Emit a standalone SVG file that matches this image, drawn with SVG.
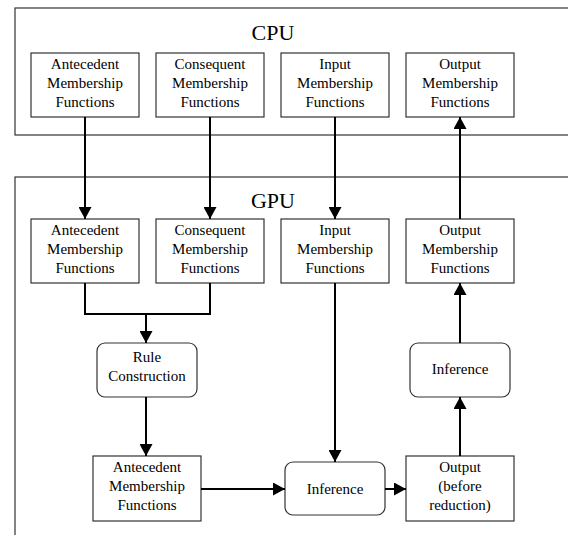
<svg xmlns="http://www.w3.org/2000/svg" width="568" height="535" viewBox="0 0 568 535">
<style>
text{font-family:"Liberation Serif","Times New Roman",serif;fill:#000;text-anchor:middle}
.t{font-size:15px}
.h{font-size:22px}
.box{fill:#fff;stroke:#333;stroke-width:1.2}
.frame{fill:none;stroke:#333;stroke-width:1.2}
.c{fill:none;stroke:#000;stroke-width:2}
</style>
<defs>
<marker id="ah" viewBox="0 0 12 13" refX="12" refY="6.5" markerWidth="12" markerHeight="13" markerUnits="userSpaceOnUse" orient="auto">
<path d="M0,0 L12,6.5 L0,13 Z" fill="#000"/>
</marker>
</defs>
<g id="cpu"><rect class="frame" x="15" y="8" width="565" height="127"/><text class="h" x="273" y="40">CPU</text></g>
<g id="gpu"><rect class="frame" x="15" y="177" width="565" height="370"/><text class="h" x="273" y="208">GPU</text></g>
<g id="cpu_ante"><rect class="box" x="31" y="53" width="108" height="64"/><text class="t" x="85" y="69">Antecedent</text><text class="t" x="85" y="88">Membership</text><text class="t" x="85" y="107">Functions</text></g>
<g id="cpu_cons"><rect class="box" x="156" y="53" width="108" height="64"/><text class="t" x="210" y="69">Consequent</text><text class="t" x="210" y="88">Membership</text><text class="t" x="210" y="107">Functions</text></g>
<g id="cpu_input"><rect class="box" x="281" y="53" width="108" height="64"/><text class="t" x="335" y="69">Input</text><text class="t" x="335" y="88">Membership</text><text class="t" x="335" y="107">Functions</text></g>
<g id="cpu_output"><rect class="box" x="406" y="53" width="108" height="64"/><text class="t" x="460" y="69">Output</text><text class="t" x="460" y="88">Membership</text><text class="t" x="460" y="107">Functions</text></g>
<g id="gpu_ante"><rect class="box" x="31" y="219" width="108" height="64"/><text class="t" x="85" y="235">Antecedent</text><text class="t" x="85" y="254">Membership</text><text class="t" x="85" y="273">Functions</text></g>
<g id="gpu_cons"><rect class="box" x="156" y="219" width="108" height="64"/><text class="t" x="210" y="235">Consequent</text><text class="t" x="210" y="254">Membership</text><text class="t" x="210" y="273">Functions</text></g>
<g id="gpu_input"><rect class="box" x="281" y="219" width="108" height="64"/><text class="t" x="335" y="235">Input</text><text class="t" x="335" y="254">Membership</text><text class="t" x="335" y="273">Functions</text></g>
<g id="gpu_output"><rect class="box" x="406" y="219" width="108" height="64"/><text class="t" x="460" y="235">Output</text><text class="t" x="460" y="254">Membership</text><text class="t" x="460" y="273">Functions</text></g>
<g id="rule"><rect class="box" x="97" y="343" width="100" height="54" rx="8"/><text class="t" x="147" y="362">Rule</text><text class="t" x="147" y="381">Construction</text></g>
<g id="inference_top"><rect class="box" x="410" y="343" width="100" height="54" rx="8"/><text class="t" x="460" y="374">Inference</text></g>
<g id="gpu_ante2"><rect class="box" x="93" y="456" width="108" height="65"/><text class="t" x="147" y="472">Antecedent</text><text class="t" x="147" y="491">Membership</text><text class="t" x="147" y="510">Functions</text></g>
<g id="inference_mid"><rect class="box" x="285" y="462" width="100" height="53" rx="8"/><text class="t" x="335" y="494">Inference</text></g>
<g id="output_pre"><rect class="box" x="406" y="456" width="108" height="65"/><text class="t" x="460" y="472">Output</text><text class="t" x="460" y="491">(before</text><text class="t" x="460" y="510">reduction)</text></g>
<g id="connectors">
<path class="c" d="M85,117 V219" marker-end="url(#ah)"/>
<path class="c" d="M210,117 V219" marker-end="url(#ah)"/>
<path class="c" d="M335,117 V219" marker-end="url(#ah)"/>
<path class="c" d="M460,219 V117" marker-end="url(#ah)"/>
<path class="c" d="M85,283 V314 H210 V283"/>
<path class="c" d="M146,314 V343" marker-end="url(#ah)"/>
<path class="c" d="M146,397 V456" marker-end="url(#ah)"/>
<path class="c" d="M335,283 V462" marker-end="url(#ah)"/>
<path class="c" d="M201,489 H285" marker-end="url(#ah)"/>
<path class="c" d="M385,489 H406" marker-end="url(#ah)"/>
<path class="c" d="M460,456 V397" marker-end="url(#ah)"/>
<path class="c" d="M460,343 V283" marker-end="url(#ah)"/>
</g>
</svg>
